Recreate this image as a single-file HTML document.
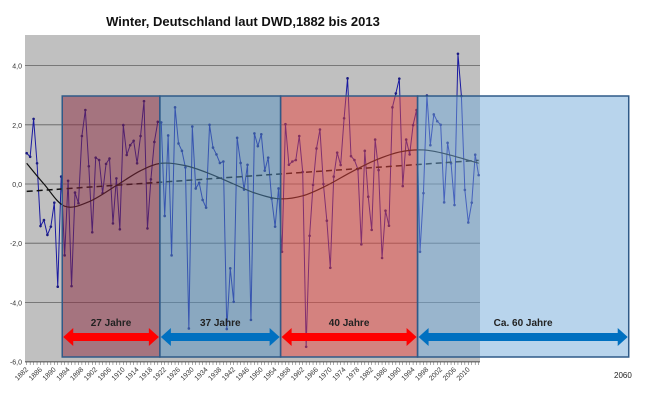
<!DOCTYPE html>
<html><head><meta charset="utf-8"><style>
body{margin:0;background:#fff;width:650px;height:400px;overflow:hidden}
svg{font-family:"Liberation Sans",sans-serif}
</style></head><body>
<svg id="c" width="650" height="400"></svg>
<script>
const years=[];for(let y=1882;y<=2013;y++)years.push(y);
const values=[1.04,0.92,2.2,0.7,-1.42,-1.22,-1.72,-1.44,-0.63,-3.47,0.25,-2.41,0.11,-3.45,-0.29,-0.65,1.62,2.5,0.6,
-1.63,0.89,0.81,-0.31,0.68,0.86,-1.33,0.19,-1.53,1.99,0.98,1.31,1.46,0.70,1.62,2.8,-1.5,0.16,1.42,2.1,2.08,
-1.08,1.64,-2.41,2.59,1.37,1.12,0.56,-4.88,1.94,-0.15,0.04,-0.54,-0.8,2.0,1.23,1.0,0.71,0.76,-4.9,-2.85,-3.98,1.56,0.71,-0.19,0.65,-4.59,1.71,1.28,
1.68,0.45,0.89,-0.49,-1.44,-0.15,-2.29,2.02,0.65,0.76,0.81,1.62,0.41,-5.5,-1.75,-0.03,1.2,1.84,0.0,-1.24,-2.83,0.25,1.06,0.64,2.22,3.57,0.94,0.81,0.5,-2.04,1.12,-0.43,-1.55,1.5,0.47,-2.5,-0.9,-1.41,2.59,3.06,3.56,-0.07,1.5,1.0,1.99,2.5,-2.29,-0.31,2.99,1.31,2.35,2.12,2.0,-0.62,1.39,0.70,-0.71,4.4,2.97,-0.2,-1.3,-0.63,0.99,0.3];
const trendYears=[1882,2013];const trendValues=[-0.25,0.8];
const curveYears=[1882,1887,1893,1900,1908,1915,1921,1928,1935,1942,1948,1955,1962,1969,1976,1983,1990,1997,2004,2013];
const curveValues=[0.7,0.0,-0.75,-0.6,-0.05,0.45,0.7,0.62,0.35,0.0,-0.3,-0.5,-0.4,-0.05,0.4,0.8,1.08,1.15,1.0,0.7];
const yTicks=[4,2,0,-2,-4,-6];
const yTickLabels=["4,0","2,0","0,0","-2,0","-4,0","-6,0"];
const periods=[{from:1892.3,to:1920.6,label:"27 Jahre",fill:"rgba(138,40,62,0.5)",arrow:"#ff0000"},
{from:1920.6,to:1955.6,label:"37 Jahre",fill:"rgba(84,144,192,0.5)",arrow:"#0070c0"},
{from:1955.6,to:1995.3,label:"40 Jahre",fill:"rgba(232,68,62,0.5)",arrow:"#ff0000"},
{from:1995.3,to:2056.5,label:"Ca. 60 Jahre",fill:"rgba(113,169,217,0.5)",arrow:"#0070c0"}];
const X0=26.7,STEP=3.45,PL=25,PR=480,PT=35,PB=362;
const x=y=>X0+(y-1882)*STEP;
const yv=v=>184-v*29.6;
const S=document.getElementById('c');const NS="http://www.w3.org/2000/svg";
function el(t,a,p){const e=document.createElementNS(NS,t);for(const k in a)e.setAttribute(k,a[k]);(p||S).appendChild(e);return e;}
let e=el('rect',{x:PL,y:PT,width:PR-PL,height:PB-PT,fill:'#c0c0c0'});

yTicks.forEach((v,i)=>{
 let g=el('line',{x1:PL,x2:PR,y1:yv(v),y2:yv(v),stroke:'#606060','stroke-width':0.8});
 
 let t=el('text',{x:PL-3,y:yv(v)+3,'font-size':7,'text-anchor':'end',fill:'#333'});t.textContent=yTickLabels[i];
 
});
el('line',{x1:PL,x2:PR,y1:PB,y2:PB,stroke:'#555','stroke-width':0.8});
years.forEach(yr=>{el('line',{x1:x(yr),x2:x(yr),y1:PB,y2:PB+3,stroke:'#555','stroke-width':0.5});
 if((yr-1882)%4===0){let t=el('text',{x:x(yr)+2,y:PB+8,'font-size':7,'text-anchor':'end',fill:'#333',transform:`rotate(-45 ${x(yr)+2} ${PB+8})`});t.textContent=yr;
 }});
let pts=values.map((v,i)=>x(years[i])+','+yv(v)).join(' ');
e=el('polyline',{points:pts,fill:'none',stroke:'#1a1aa0','stroke-width':1});

values.forEach((v,i)=>{let c=el('circle',{cx:x(years[i]),cy:yv(v),r:1.3,fill:'#1a1a80'});
 });
e=el('line',{x1:x(trendYears[0]),y1:yv(trendValues[0]),x2:x(trendYears[1]),y2:yv(trendValues[1]),stroke:'#111','stroke-width':1.5,'stroke-dasharray':'6,4'});

const cp=curveYears.map((yr,i)=>[x(yr),yv(curveValues[i])]);
let d='M'+cp[0];
for(let i=0;i<cp.length-1;i++){const p0=cp[i-1]||cp[i],p1=cp[i],p2=cp[i+1],p3=cp[i+2]||p2;
 d+=` C${p1[0]+(p2[0]-p0[0])/6},${p1[1]+(p2[1]-p0[1])/6} ${p2[0]-(p3[0]-p1[0])/6},${p2[1]-(p3[1]-p1[1])/6} ${p2[0]},${p2[1]}`;}
e=el('path',{d:d,fill:'none',stroke:'#111','stroke-width':1.2});

const BT=96,BB=357,AY=337;
periods.forEach(p=>{const x1=x(p.from),x2=x(p.to);
 let r=el('rect',{x:x1,y:BT,width:x2-x1,height:BB-BT,fill:p.fill,stroke:'#2f5a88','stroke-width':1.5});
 
 const h=7,w=4,hw=11;
 let a=el('polygon',{points:`${x1+1},${AY} ${x1+hw},${AY-h-2} ${x1+hw},${AY-w} ${x2-hw},${AY-w} ${x2-hw},${AY-h-2} ${x2-1},${AY} ${x2-hw},${AY+h+2} ${x2-hw},${AY+w} ${x1+hw},${AY+w} ${x1+hw},${AY+h+2}`,fill:p.arrow});
 
 let t=el('text',{x:(x1+x2)/2,y:AY-11,'font-size':10,'font-weight':'bold','text-anchor':'middle',fill:'#222'});t.textContent=p.label;
 
});
let t=el('text',{x:243,y:26,'font-size':13,'font-weight':'bold','text-anchor':'middle',fill:'#111'});t.textContent="Winter, Deutschland laut DWD,1882 bis 2013";

t=el('text',{x:614,y:378,'font-size':8,fill:'#222'});t.textContent="2060";

</script>
</body></html>
